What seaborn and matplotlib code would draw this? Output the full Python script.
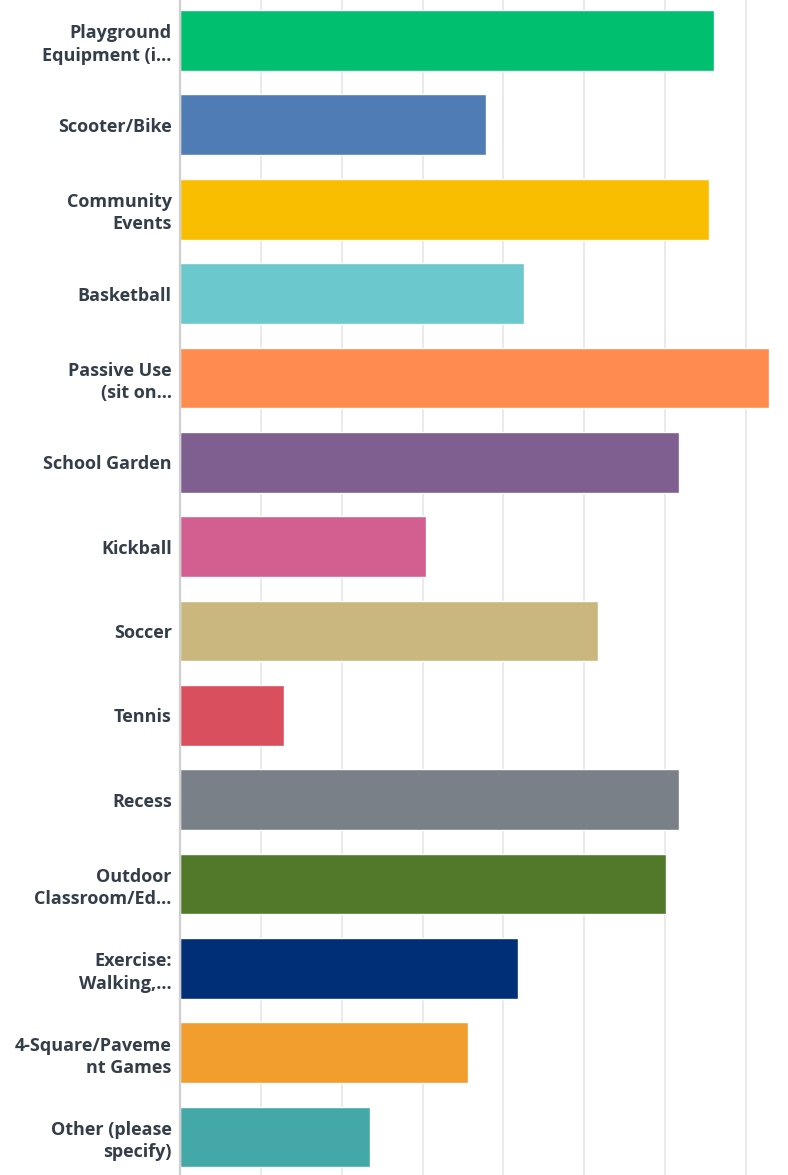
import matplotlib
matplotlib.use('Agg')
import matplotlib.pyplot as plt
import seaborn as sns
import pandas as pd

labels = ['Playground\nEquipment (i...', 'Scooter/Bike', 'Community\nEvents', 'Basketball',
          'Passive Use\n(sit on...', 'School Garden', 'Kickball', 'Soccer', 'Tennis', 'Recess',
          'Outdoor\nClassroom/Ed...', 'Exercise:\nWalking,...', '4-Square/Paveme\nnt Games',
          'Other (please\nspecify)']
values = [66.1, 37.8, 65.4, 42.5, 72.9, 61.7, 30.4, 51.7, 12.9, 61.7, 60.1, 41.8, 35.6, 23.5]
colors = ['#00bf6f', '#507cb6', '#f9be00', '#6bc8cd', '#ff8b4f', '#7f5f90', '#d25f90',
          '#c9b77d', '#da4f5e', '#7a8088', '#507a29', '#002f78', '#f19e2f', '#44a8a8']

df = pd.DataFrame({'label': labels, 'value': values})

sns.set_style('white')
plt.rcParams['font.family'] = ['Open Sans', 'DejaVu Sans']

fig = plt.figure(figsize=(7.88, 11.75), dpi=100)
ax = fig.add_axes([180 / 788, 0, 608 / 788, 1])

sns.barplot(data=df, x='value', y='label', hue='label', palette=colors, orient='h',
            width=0.72, legend=False, saturation=1, ax=ax)

ax.set_xlim(0, 75.2)
ax.set_ylim(13.45, -0.48)
ax.set_xticks(range(10, 80, 10))
ax.set_xticklabels([])
ax.xaxis.grid(True, color='#e8e8e8', linewidth=1.3)
ax.set_axisbelow(True)
ax.tick_params(axis='both', length=0)
ax.tick_params(axis='y', pad=6)
for lbl in ax.get_yticklabels():
    lbl.set_fontweight('bold')
    lbl.set_fontsize(13)
    lbl.set_color('#333e48')
    lbl.set_linespacing(1.3)
for s in ['top', 'right', 'bottom']:
    ax.spines[s].set_visible(False)
ax.spines['left'].set_color('#cfcfcf')
ax.spines['left'].set_linewidth(1.6)
ax.set_xlabel('')
ax.set_ylabel('')

fig.savefig('out.png', dpi=100)
